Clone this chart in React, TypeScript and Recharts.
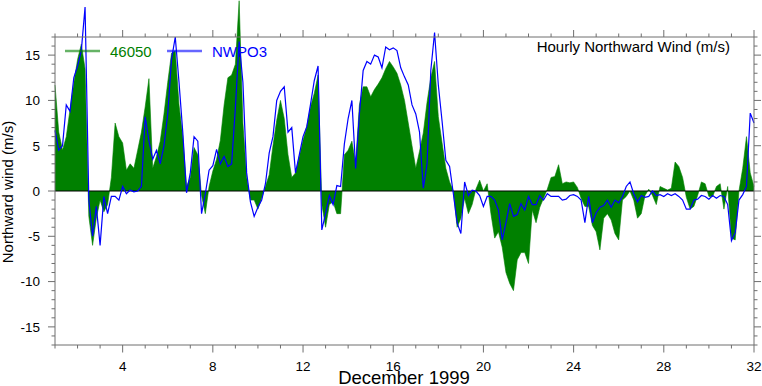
import React from 'react';
import { ComposedChart, Area, Line, XAxis, YAxis, ReferenceLine } from 'recharts';

// Hourly northward wind, sampled every 4 hours from Dec 1 (day 1.0) to day 32.0
const SAMPLE_HOURS = 4;
const START_DAY = 1;

const buoy46050 = [
  11.7, 6.5, 4.5, 6.0, 9.0, 11.9, 14.5, 16.2, 13.5, -2.8,
  -6.0, -3.0, -1.0, -2.3, -1.5, 1.5, 7.5, 6.0, 5.3, 2.3,
  3.0, 2.5, 4.5, 6.5, 9.3, 12.4, 2.5, 3.8, 5.5, 8.5,
  12.0, 15.2, 15.5, 9.5, 6.0, 0.5, 1.5, 4.8, 4.0, -0.5,
  -2.5, 0.5, 2.2, 3.5, 5.6, 9.5, 12.5, 12.8, 14.0, 21.0,
  7.5, 1.5, -1.0, -1.0, -2.0, -0.8, 0.5, 1.8, 5.0, 7.8,
  10.0, 8.0, 4.0, 1.5, 2.0, 3.8, 5.6, 7.1, 9.3, 10.8,
  12.8, -1.5, -4.0, -1.5, -1.2, -2.5, -2.5, 4.0, 4.5, 5.5,
  3.0, 9.5, 11.5, 11.5, 10.4, 11.2, 11.8, 12.5, 13.5, 14.3,
  13.7, 13.0, 11.7, 10.0, 7.5, 5.0, 2.5, 4.4, 6.4, 9.8,
  12.5, 14.3, 8.2, 5.3, 2.5, 1.0, 0.0, -4.0, -3.0, -0.8,
  -2.5, -1.5, 0.2, 1.2, 0.0, 0.8, -2.5, -5.2, -4.5, -6.2,
  -9.0, -10.2, -11.0, -7.6, -6.8, -6.8, -8.0, -2.1, -3.5, -1.8,
  -0.8, 0.2, 1.5, 1.6, 2.9, 0.8, 1.0, 0.9, 1.0, 0.4,
  -0.8, -1.7, -1.7, -3.8, -4.5, -6.5, -3.0, -2.5, -3.2, -4.7,
  -5.4, -1.0, -0.6, 0.0, -1.0, -3.0, -2.5, -0.5, 0.2, -0.5,
  -1.5, 0.5, 0.3, 0.1, 0.3, 3.2, 2.7, 1.5, -0.7, -2.0,
  -1.7, -0.5, 1.0, 0.8, -0.6, -0.6, 0.5, 0.8, -2.0, 0.5,
  -5.2, -5.4, 0.0, 2.5, 6.0, 2.0, 0.5,
];

const nwpo3 = [
  6.7, 4.5, 5.0, 9.5, 8.8, 12.5, 13.8, 15.5, 20.3, -1.0,
  -5.0, -1.7, -6.0, -0.6, -2.5, -0.6, -0.6, -1.0, 0.5, -0.3,
  0.1, -0.1, 0.0, 0.5, 8.2, 5.5, 3.5, 4.5, 3.0, 5.0,
  8.5, 14.5, 17.0, 12.0, 6.5, -0.2, 2.0, 6.0, 5.5, -2.5,
  -0.3, 2.3, 2.8, 4.6, 3.0, 3.8, 2.7, 3.0, 9.2, 16.5,
  12.0, 2.0, -1.2, -2.8, -1.8, -1.0, 0.8, 4.2, 6.0, 10.0,
  11.0, 11.5, 6.5, 7.0, 2.0, 4.0, 6.0, 7.1, 9.6, 12.2,
  13.8, -4.3, -2.5, -0.5, -1.5, 0.6, 0.5, 5.2, 8.0, 10.0,
  2.5, 8.5, 13.3, 14.3, 14.0, 15.0, 14.8, 13.6, 15.9, 15.6,
  15.8, 15.5, 13.6, 12.6, 11.7, 9.5, 8.5, 6.5, 0.3, 3.0,
  13.3, 17.5, 11.7, 7.7, 3.4, 2.7, -0.3, -3.5, -4.7, 1.0,
  -0.5, 0.1, 0.0, -0.5, -1.7, -0.6, -0.6, -1.0, -2.1, -5.4,
  -3.5, -1.4, -2.8, -2.6, -1.4, -2.1, -0.6, -1.5, -1.5, -0.5,
  -1.0, -0.3, -0.6, -0.6, -0.6, -1.0, -0.9, -0.5, -0.4, -0.6,
  -1.0, -3.5, -0.6, -3.5, -2.4, -1.8, -1.6, -1.0, -1.8, -1.0,
  -1.3, -0.6, 0.5, 1.0, -0.3, -1.2, -0.5, -0.7, -0.6, 0.0,
  -0.5, -0.4, -0.6, -0.3, -0.5, -0.3, -0.6, -1.0, -2.0, -2.0,
  -1.0, -0.9, -0.5, -0.6, -0.9, -0.5, -0.8, -0.5, -0.6, -1.5,
  -5.5, -4.6, -1.0, -0.4, 0.5, 8.6, 7.5,
];

const xTicks = Array.from({ length: 32 }, (_, i) => i + 1);
const xLabelEvery = 4;
const yTicks = Array.from({ length: 35 }, (_, i) => i - 17);
const yLabelEvery = 5;
const Y_DOMAIN: [number, number] = [-17, 17];
const X_DOMAIN: [number, number] = [1, 32];

const title = 'Hourly Northward Wind (m/s)';
const xTitle = 'December 1999';
const yTitle = 'Northward wind (m/s)';
const seriesNames = ['46050', 'NWPO3'];

const data = buoy46050.map((v, i) => ({
  day: START_DAY + (i * SAMPLE_HOURS) / 24,
  buoy: v,
  nwpo3: nwpo3[i],
}));

const FONT = '"Liberation Sans", Arial, Helvetica, sans-serif';
const AXIS = '#6e6e6e';
const GREEN = '#008000';
const BLUE = '#0000ff';

const BottomTick = (props: any) => {
  const { x, y, payload } = props;
  const v = payload.value;
  const major = v % xLabelEvery === 0;
  return (
    <g>
      <line x1={x} y1={y} x2={x} y2={y + (major ? 7.5 : 3.5)} stroke={AXIS} strokeWidth={1} />
      {major && (
        <text x={x} y={y + 26} textAnchor="middle" fontSize={13.5} fontFamily={FONT} fill="#000">
          {v}
        </text>
      )}
    </g>
  );
};

const TopTick = (props: any) => {
  const { x, y, payload } = props;
  const major = payload.value % xLabelEvery === 0;
  return <line x1={x} y1={y} x2={x} y2={y - (major ? 7 : 3.5)} stroke={AXIS} strokeWidth={1} />;
};

const LeftTick = (props: any) => {
  const { x, y, payload } = props;
  const v = payload.value;
  const major = v % yLabelEvery === 0;
  return (
    <g>
      <line x1={x} y1={y} x2={x - (major ? 7 : 3.5)} y2={y} stroke={AXIS} strokeWidth={1} />
      {major && (
        <text x={x - 15} y={y + 4.8} textAnchor="end" fontSize={13.5} fontFamily={FONT} fill="#000">
          {v}
        </text>
      )}
    </g>
  );
};

const RightTick = (props: any) => {
  const { x, y, payload } = props;
  const major = payload.value % yLabelEvery === 0;
  return <line x1={x} y1={y} x2={x + (major ? 7 : 3.5)} y2={y} stroke={AXIS} strokeWidth={1} />;
};

export default function App() {
  return (
    <div style={{ position: 'relative', width: 762, height: 386 }}>
      <style>{`body{margin:0} .recharts-wrapper [clip-path]{clip-path:none !important}`}</style>
      <ComposedChart width={762} height={386} data={data} margin={{ top: 0, right: 0, bottom: 0, left: 0 }}>
        <XAxis
          xAxisId="bottom"
          dataKey="day"
          type="number"
          domain={X_DOMAIN}
          ticks={xTicks}
          interval={0}
          orientation="bottom"
          height={41}
          tickSize={0}
          tickMargin={0}
          tick={<BottomTick />}
          axisLine={{ stroke: AXIS }}
          allowDataOverflow
        />
        <XAxis
          xAxisId="top"
          dataKey="day"
          type="number"
          domain={X_DOMAIN}
          ticks={xTicks}
          interval={0}
          orientation="top"
          height={37}
          tickSize={0}
          tickMargin={0}
          tick={<TopTick />}
          axisLine={{ stroke: AXIS }}
          allowDataOverflow
        />
        <YAxis
          yAxisId="left"
          type="number"
          domain={Y_DOMAIN}
          ticks={yTicks}
          interval={0}
          orientation="left"
          width={55}
          tickSize={0}
          tickMargin={0}
          tick={<LeftTick />}
          axisLine={{ stroke: AXIS }}
          allowDataOverflow
        />
        <YAxis
          yAxisId="right"
          type="number"
          domain={Y_DOMAIN}
          ticks={yTicks}
          interval={0}
          orientation="right"
          width={8}
          tickSize={0}
          tickMargin={0}
          tick={<RightTick />}
          axisLine={{ stroke: AXIS }}
          allowDataOverflow
        />
        <Area
          xAxisId="bottom"
          yAxisId="left"
          type="linear"
          dataKey="buoy"
          baseValue={0}
          fill={GREEN}
          fillOpacity={1}
          stroke={GREEN}
          strokeWidth={0.6}
          isAnimationActive={false}
          dot={false}
          activeDot={false}
        />
        <ReferenceLine xAxisId="bottom" yAxisId="left" y={0} stroke="#000" strokeWidth={1.2} />
        <Line
          xAxisId="bottom"
          yAxisId="left"
          type="linear"
          dataKey="nwpo3"
          stroke={BLUE}
          strokeWidth={1.2}
          dot={false}
          activeDot={false}
          isAnimationActive={false}
        />
      </ComposedChart>
      <svg
        width={762}
        height={386}
        style={{ position: 'absolute', left: 0, top: 0, pointerEvents: 'none', overflow: 'visible' }}
      >
        <line x1={65} y1={51} x2={100} y2={51} stroke={GREEN} strokeWidth={2.5} strokeOpacity={0.6} />
        <text x={110} y={56.5} fontSize={15} fontFamily={FONT} fill={GREEN}>
          {seriesNames[0]}
        </text>
        <line x1={167} y1={51} x2={202} y2={51} stroke={BLUE} strokeWidth={2.5} strokeOpacity={0.6} />
        <text x={212} y={56.5} fontSize={15} fontFamily={FONT} fill={BLUE}>
          {seriesNames[1]}
        </text>
        <text x={730} y={52} textAnchor="end" fontSize={15} fontFamily={FONT} fill="#000">
          {title}
        </text>
        <text x={404} y={384} textAnchor="middle" fontSize={18.5} fontFamily={FONT} fill="#000">
          {xTitle}
        </text>
        <text
          x={13}
          y={192}
          textAnchor="middle"
          fontSize={15}
          fontFamily={FONT}
          fill="#000"
          transform="rotate(-90 13 192)"
        >
          {yTitle}
        </text>
      </svg>
    </div>
  );
}
